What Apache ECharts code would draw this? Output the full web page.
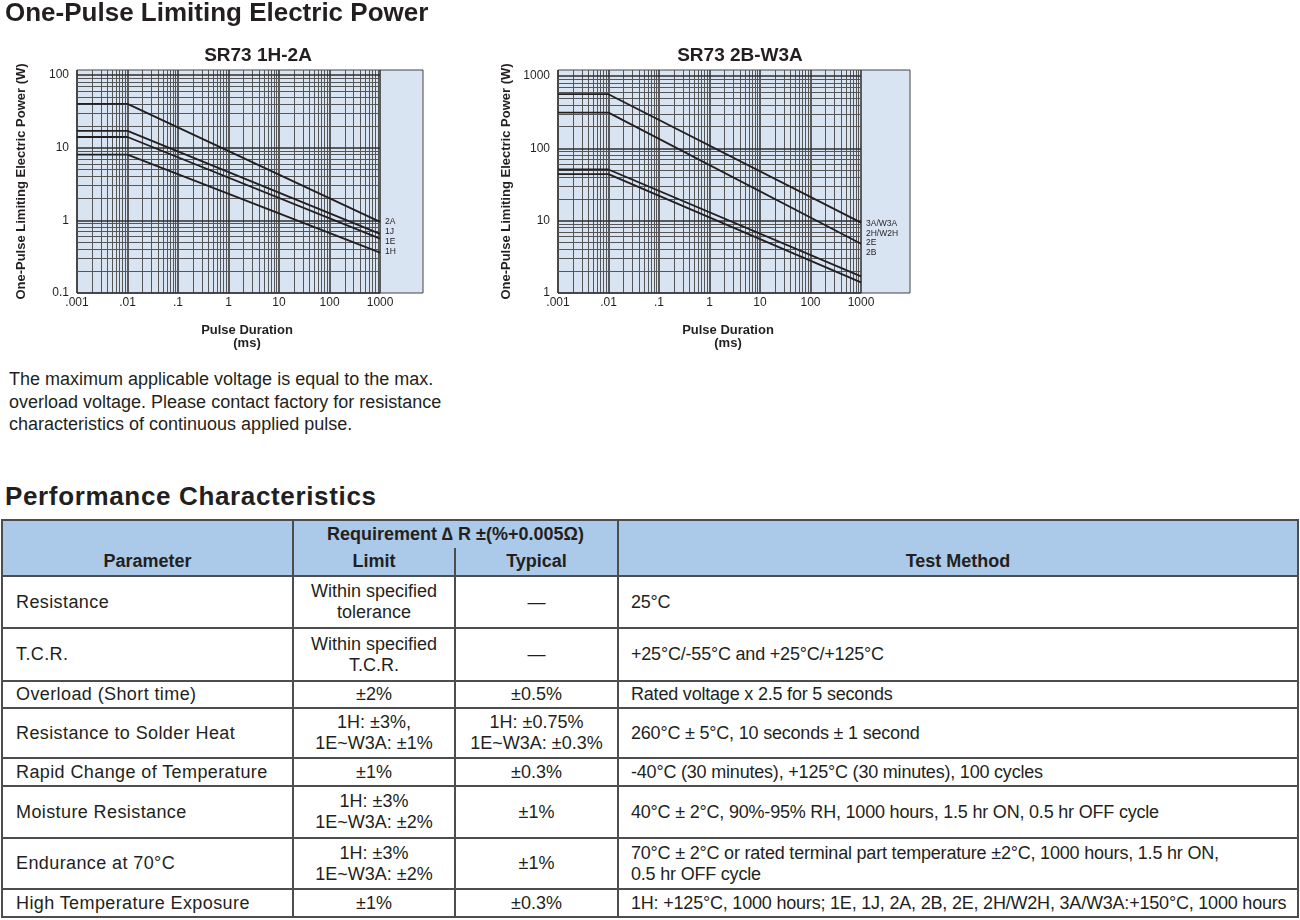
<!DOCTYPE html>
<html>
<head>
<meta charset="utf-8">
<title>SR73 One-Pulse Limiting Electric Power</title>
<script src="https://cdn.jsdelivr.net/npm/echarts@6/dist/echarts.min.js"></script>
<style>
  body { margin: 0; width: 1300px; height: 920px; position: relative; overflow: hidden; background: #fff;
         font-family: "Liberation Sans", Arial, Helvetica, sans-serif; color: #231f20; }
  .head { position: absolute; left: 5px; margin: 0; font-size: 26px; line-height: 26px; font-weight: bold; z-index: 2; }
  #charts { position: absolute; left: 0; top: 0; width: 1000px; height: 360px; }
  .note { position: absolute; left: 9px; top: 368px; margin: 0; font-size: 18px; line-height: 22.5px; }
  #perf { position: absolute; left: 1px; top: 519px; width: 1298px; border-collapse: collapse; table-layout: fixed;
          font-size: 18px; line-height: 21px; color: #231f20; }
  #perf th, #perf td { border: 2px solid #4d4d4d; padding: 0; white-space: nowrap; }
  #perf th { background: #abc9e9; font-weight: bold; text-align: center; }
  #perf td { text-align: center; }
  #perf td.param { text-align: left; padding-left: 13px; letter-spacing: 0.4px; }
  #perf td.method { text-align: left; padding-left: 12px; letter-spacing: -0.2px; }
</style>
</head>
<body>
<h1 class="head" style="top:-1px">One-Pulse Limiting Electric Power</h1>
<div id="charts"></div>
<p class="note">The maximum applicable voltage is equal to the max.<br>overload voltage. Please contact factory for resistance<br>characteristics of continuous applied pulse.</p>
<h2 class="head" style="top:483px;letter-spacing:0.65px">Performance Characteristics</h2>
<table id="perf">
  <colgroup><col style="width:291px"><col style="width:162px"><col style="width:163px"><col></colgroup>
  <thead>
    <tr style="height:28px">
      <th rowspan="2" style="vertical-align:bottom;padding-bottom:3px">Parameter</th>
      <th colspan="2" style="border-bottom-style:hidden">Requirement &#8710; R ±(%+0.005Ω)</th>
      <th rowspan="2" style="vertical-align:bottom;padding-bottom:3px">Test Method</th>
    </tr>
    <tr style="height:28px">
      <th style="border-top-style:hidden">Limit</th>
      <th style="border-top-style:hidden">Typical</th>
    </tr>
  </thead>
  <tbody id="perf-body"></tbody>
</table>

<script>
// ---- pulse chart data ----
const durations = [0.001, 0.01, 1000];           // ms: flat up to the .01 ms knee, then falling

const namesSmall = ['2A', '1J', '1E', '1H'];
const power2A = [40, 40, 0.95];
const power1J = [17, 17, 0.65];
const power1E = [14, 14, 0.56];
const power1H = [8, 8, 0.36];

const namesLarge = ['3A/W3A', '2H/W2H', '2E', '2B'];
const power3A = [560, 560, 9.4];
const power2H = [312, 312, 4.8];
const power2E = [51, 51, 1.7];
const power2B = [44, 44, 1.4];

const xTicks = [0.001, 0.01, 0.1, 1, 10, 100, 1000];
const xTickLabels = ['.001', '.01', '.1', '1', '10', '100', '1000'];
const yTicksSmall = [0.1, 1, 10, 100];
const yTickLabelsSmall = ['0.1', '1', '10', '100'];
const yTicksLarge = [1, 10, 100, 1000];
const yTickLabelsLarge = ['1', '10', '100', '1000'];

// ---- performance table ----
const paramNames = ['Resistance', 'T.C.R.', 'Overload (Short time)', 'Resistance to Solder Heat',
  'Rapid Change of Temperature', 'Moisture Resistance', 'Endurance at 70°C', 'High Temperature Exposure'];
const limitValues = ['Within specified\ntolerance', 'Within specified\nT.C.R.', '±2%', '1H: ±3%,\n1E~W3A: ±1%',
  '±1%', '1H: ±3%\n1E~W3A: ±2%', '1H: ±3%\n1E~W3A: ±2%', '±1%'];
const typicalValues = ['—', '—', '±0.5%', '1H: ±0.75%\n1E~W3A: ±0.3%', '±0.3%', '±1%', '±1%', '±0.3%'];
const testMethods = ['25°C', '+25°C/-55°C and +25°C/+125°C', 'Rated voltage x 2.5 for 5 seconds',
  '260°C ± 5°C, 10 seconds ± 1 second', '-40°C (30 minutes), +125°C (30 minutes), 100 cycles',
  '40°C ± 2°C, 90%-95% RH, 1000 hours, 1.5 hr ON, 0.5 hr OFF cycle',
  '70°C ± 2°C or rated terminal part temperature ±2°C, 1000 hours, 1.5 hr ON,\n0.5 hr OFF cycle',
  '1H: +125°C, 1000 hours; 1E, 1J, 2A, 2B, 2E, 2H/W2H, 3A/W3A:+150°C, 1000 hours'];

const rowHeights = [52, 53, 27, 50, 28, 52, 51, 28];
const body = document.getElementById('perf-body');
const cellHtml = s => s.replace(/\n/g, '<br>');
paramNames.forEach((p, i) => {
  const tr = document.createElement('tr');
  tr.style.height = rowHeights[i] + 'px';
  tr.innerHTML = '<td class="param">' + cellHtml(p) + '</td><td>' + cellHtml(limitValues[i]) +
    '</td><td>' + cellHtml(typicalValues[i]) + '</td><td class="method">' + cellHtml(testMethods[i]) + '</td>';
  body.appendChild(tr);
});

// ---- charts ----
const FONT = '"Liberation Sans", Arial, Helvetica, sans-serif';
const INK = '#231f20';

// 1..9 x 10^n steps inside [lo, hi] - the log paper lines
function logSteps(lo, hi) {
  const out = [];
  for (let e = Math.floor(Math.log10(lo)); Math.pow(10, e) <= hi; e++) {
    for (let k = 1; k < 10; k++) {
      const v = +(k * Math.pow(10, e)).toPrecision(6);
      if (v >= lo * 0.9999 && v <= hi * 1.0001) out.push(v);
    }
  }
  return out;
}
const isDecade = v => Math.abs(Math.log10(v) - Math.round(Math.log10(v))) < 1e-9;
const lineStyleFor = v => isDecade(v)
  ? { color: '#2e2e2e', width: 1.5, type: 'solid' }
  : { color: '#555', width: 1, type: 'solid' };

function paperLines(xLo, xHi, yLo, yHi, yTop) {
  const data = [];
  logSteps(xLo, xHi).forEach(v => data.push([{ coord: [v, yLo], lineStyle: lineStyleFor(v) }, { coord: [v, yTop] }]));
  logSteps(yLo, yHi).forEach(v => data.push([{ coord: [xLo, v], lineStyle: lineStyleFor(v) }, { coord: [xHi, v] }]));
  return data;
}

function tickFormatter(ticks, labels) {
  return v => {
    const i = ticks.findIndex(t => Math.abs(Math.log10(t) - Math.log10(v)) < 1e-6);
    return i < 0 ? '' : labels[i];
  };
}

function makeXAxis(gridIndex, max, shift) {
  return {
    type: 'log', logBase: 10, gridIndex, min: 0.001, max,
    name: 'Pulse Duration\n(ms)', nameLocation: 'middle', nameGap: 31,
    nameTextStyle: { fontFamily: FONT, fontWeight: 'bold', fontSize: 13, lineHeight: 13, color: INK,
                     padding: [0, shift, 0, 0] },
    axisLine: { show: false }, axisTick: { show: false }, splitLine: { show: false },
    axisLabel: { margin: 4, fontFamily: FONT, fontSize: 12, color: INK, formatter: tickFormatter(xTicks, xTickLabels) }
  };
}
function makeYAxis(gridIndex, min, max, ticks, labels, gap) {
  return {
    type: 'log', logBase: 10, gridIndex, min, max,
    name: 'One-Pulse Limiting Electric Power (W)', nameLocation: 'middle', nameGap: gap, nameRotate: 90,
    nameTextStyle: { fontFamily: FONT, fontWeight: 'bold', fontSize: 13, color: INK },
    axisLine: { show: false }, axisTick: { show: false }, splitLine: { show: false },
    axisLabel: { margin: 8, fontFamily: FONT, fontSize: 12, color: INK, formatter: tickFormatter(ticks, labels) }
  };
}
function curve(name, values, idx) {
  return {
    name, type: 'line', xAxisIndex: idx, yAxisIndex: idx, symbol: 'none', z: 3,
    lineStyle: { color: INK, width: 1.8 },
    data: durations.map((d, i) => [d, values[i]])
  };
}
function paperSeries(idx, yLo, yHi, yTop) {
  return {
    type: 'line', xAxisIndex: idx, yAxisIndex: idx, data: [], z: 1,
    markLine: { silent: true, symbol: ['none', 'none'], label: { show: false }, animation: false, z: 1,
      data: paperLines(0.001, 1000, yLo, yHi, yTop) }
  };
}
function curveLabel(text, x, y) {
  return { type: 'text', x, y, style: { text, fontFamily: FONT, fontSize: 8.5, fill: INK, verticalAlign: 'middle' } };
}

const yMaxSmall = 117, yMaxLarge = 1210;

const chart = echarts.init(document.getElementById('charts'));
chart.setOption({
  animation: false,
  title: [
    { text: 'SR73 1H-2A', left: 253, top: 41, textAlign: 'center', textStyle: { fontFamily: FONT, fontSize: 19, fontWeight: 'bold', color: INK } },
    { text: 'SR73 2B-W3A', left: 735, top: 41, textAlign: 'center', textStyle: { fontFamily: FONT, fontSize: 19, fontWeight: 'bold', color: INK } }
  ],
  grid: [
    { left: 77, top: 70, width: 346, height: 223, show: true, backgroundColor: '#d9e4f3', borderColor: '#444', borderWidth: 1 },
    { left: 558, top: 70, width: 352, height: 223, show: true, backgroundColor: '#d9e4f3', borderColor: '#444', borderWidth: 1 }
  ],
  xAxis: [makeXAxis(0, 7080, 6), makeXAxis(1, 9330, 12)],
  yAxis: [
    makeYAxis(0, 0.1, yMaxSmall, yTicksSmall, yTickLabelsSmall, 49),
    makeYAxis(1, 1, yMaxLarge, yTicksLarge, yTickLabelsLarge, 45)
  ],
  series: [
    paperSeries(0, 0.1, 100, yMaxSmall),
    paperSeries(1, 1, 1000, yMaxLarge),
    curve(namesSmall[0], power2A, 0),
    curve(namesSmall[1], power1J, 0),
    curve(namesSmall[2], power1E, 0),
    curve(namesSmall[3], power1H, 0),
    curve(namesLarge[0], power3A, 1),
    curve(namesLarge[1], power2H, 1),
    curve(namesLarge[2], power2E, 1),
    curve(namesLarge[3], power2B, 1)
  ],
  graphic: [
    curveLabel(namesSmall[0], 385, 222), curveLabel(namesSmall[1], 385, 232),
    curveLabel(namesSmall[2], 385, 242), curveLabel(namesSmall[3], 385, 252),
    curveLabel(namesLarge[0], 866, 224), curveLabel(namesLarge[1], 866, 234),
    curveLabel(namesLarge[2], 866, 243), curveLabel(namesLarge[3], 866, 253)
  ]
});
</script>
</body>
</html>
